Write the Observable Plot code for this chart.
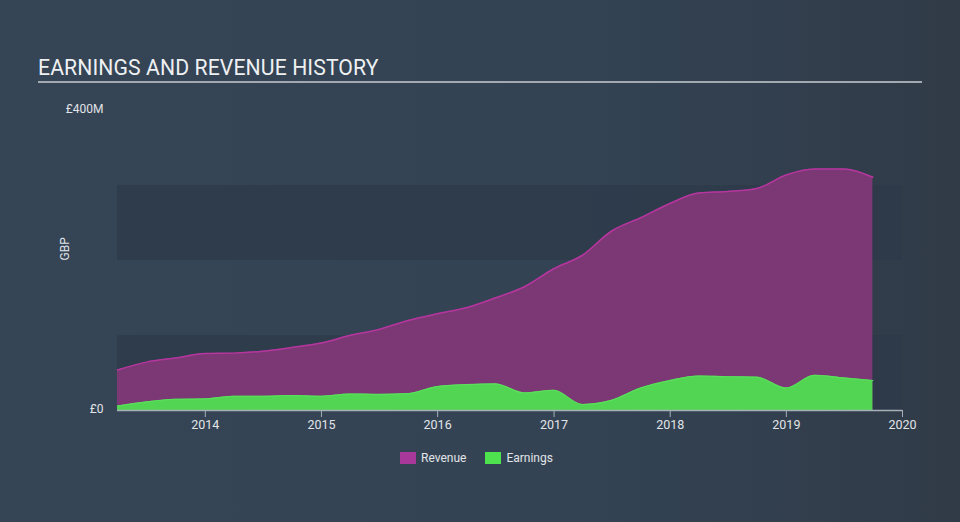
<!DOCTYPE html>
<html>
<head>
<meta charset="utf-8">
<script src="https://cdn.jsdelivr.net/npm/d3@7"></script>
<script src="https://cdn.jsdelivr.net/npm/@observablehq/plot@0.6"></script>
<style>
  html, body { margin: 0; padding: 0; }
  body { width: 960px; height: 522px; overflow: hidden; font-family: Roboto, "Open Sans", sans-serif; }
  #wrap { position: relative; width: 960px; height: 522px; background: linear-gradient(90deg, #354556 0%, #334354 60%, #313b48 100%); }
  #title { position: absolute; left: 38px; top: 55px; font-size: 21.2px; color: #eef0f2; letter-spacing: 0.1px; }
  #rule { position: absolute; left: 38px; top: 81px; width: 884px; height: 2px; background: #a3a9b0; }
  #chart { position: absolute; left: 0; top: 0; }
  #legend { position: absolute; top: 451px; left: 400px; display: flex; align-items: center; font-size: 12px; color: #e2e4e8; }
  .sw { width: 16px; height: 12px; display: inline-block; margin-right: 5px; }
  .item { display: flex; align-items: center; margin-right: 19px; }
</style>
</head>
<body>
<div id="wrap">
  <div id="chart"></div>
  <div id="title">EARNINGS AND REVENUE HISTORY</div>
  <div id="rule"></div>
  <div id="legend">
    <div class="item"><span class="sw" style="background:#a8399a"></span>Revenue</div>
    <div class="item"><span class="sw" style="background:#4fe24f"></span>Earnings</div>
  </div>
</div>
<script>
const dates = ["2013-03-31","2013-06-30","2013-09-30","2013-12-31",
  "2014-03-31","2014-06-30","2014-09-30","2014-12-31",
  "2015-03-31","2015-06-30","2015-09-30","2015-12-31",
  "2016-03-31","2016-06-30","2016-09-30","2016-12-31",
  "2017-03-31","2017-06-30","2017-09-30","2017-12-31",
  "2018-03-31","2018-06-30","2018-09-30","2018-12-31",
  "2019-03-31","2019-06-30","2019-09-30"];
const revenue = [54, 64.5, 70, 76, 76.5, 79, 84, 90, 100, 108, 120, 129, 137, 150, 165, 189, 207, 239, 257, 276, 290, 292, 296, 314, 322, 322, 311];
const earnings = [6, 11.5, 15, 15.5, 19, 19, 20, 19, 22, 21.5, 22.5, 32, 34.5, 35.5, 23.5, 27, 8, 13.5, 30, 40, 46, 45, 44.5, 30, 47, 43.5, 40];
const yTicks = [0, 400];
const yTickLabels = ["£0", "£400M"];
const xTickYears = [2014, 2015, 2016, 2017, 2018, 2019, 2020];
const bands = [[0, 100], [200, 300]];

const parse = d3.utcParse("%Y-%m-%d");
const rows = dates.map((d, i) => ({date: parse(d), revenue: revenue[i], earnings: earnings[i]}));
const xStart = parse(dates[0]);
const xEnd = new Date(Date.UTC(2020, 0, 1));
const xTicks = xTickYears.map(y => new Date(Date.UTC(y, 0, 1)));
const bandRows = bands.map(([a, b]) => ({x1: xStart, x2: xEnd, y1: a, y2: b}));

const chart = Plot.plot({
  width: 960,
  height: 522,
  marginLeft: 117,
  marginRight: 58,
  marginTop: 110,
  marginBottom: 112,
  style: {background: "transparent", fontFamily: "Roboto, sans-serif", fontSize: "12px", color: "#e2e4e8"},
  x: {type: "utc", domain: [xStart, xEnd]},
  y: {domain: [0, 400]},
  marks: [
    Plot.rect(bandRows, {x1: "x1", x2: "x2", y1: "y1", y2: "y2", fill: "#2d3a49", fillOpacity: 0.75}),
    Plot.areaY(rows, {x: "date", y: "revenue", fill: "#7b3874", curve: "monotone-x"}),
    Plot.lineY(rows, {x: "date", y: "revenue", stroke: "#b5369e", strokeWidth: 1.5, curve: "monotone-x"}),
    Plot.areaY(rows, {x: "date", y: "earnings", fill: "#51d552", curve: "monotone-x"}),
    Plot.lineY(rows, {x: "date", y: "earnings", stroke: "#5be05c", strokeWidth: 1.2, curve: "monotone-x"}),
    Plot.ruleY([0], {stroke: "#a8b0b8", strokeWidth: 1.5}),
    Plot.axisX({ticks: xTicks, tickFormat: d3.utcFormat("%Y"), tickSize: 7, tickPadding: 3, stroke: "#a8b0b8", fill: "#e2e4e8", fontSize: 12.5}),
    Plot.axisY({ticks: yTicks, tickFormat: (d) => yTickLabels[yTicks.indexOf(d)], tickSize: 0, tickPadding: 14, dy: -1, fill: "#e2e4e8", fontSize: 12, label: null}),
    Plot.text(["GBP"], {frameAnchor: "left", dx: -52, rotate: -90, fill: "#e2e4e8", fontSize: 12})
  ]
});
document.getElementById("chart").appendChild(chart);
</script>
</body>
</html>
